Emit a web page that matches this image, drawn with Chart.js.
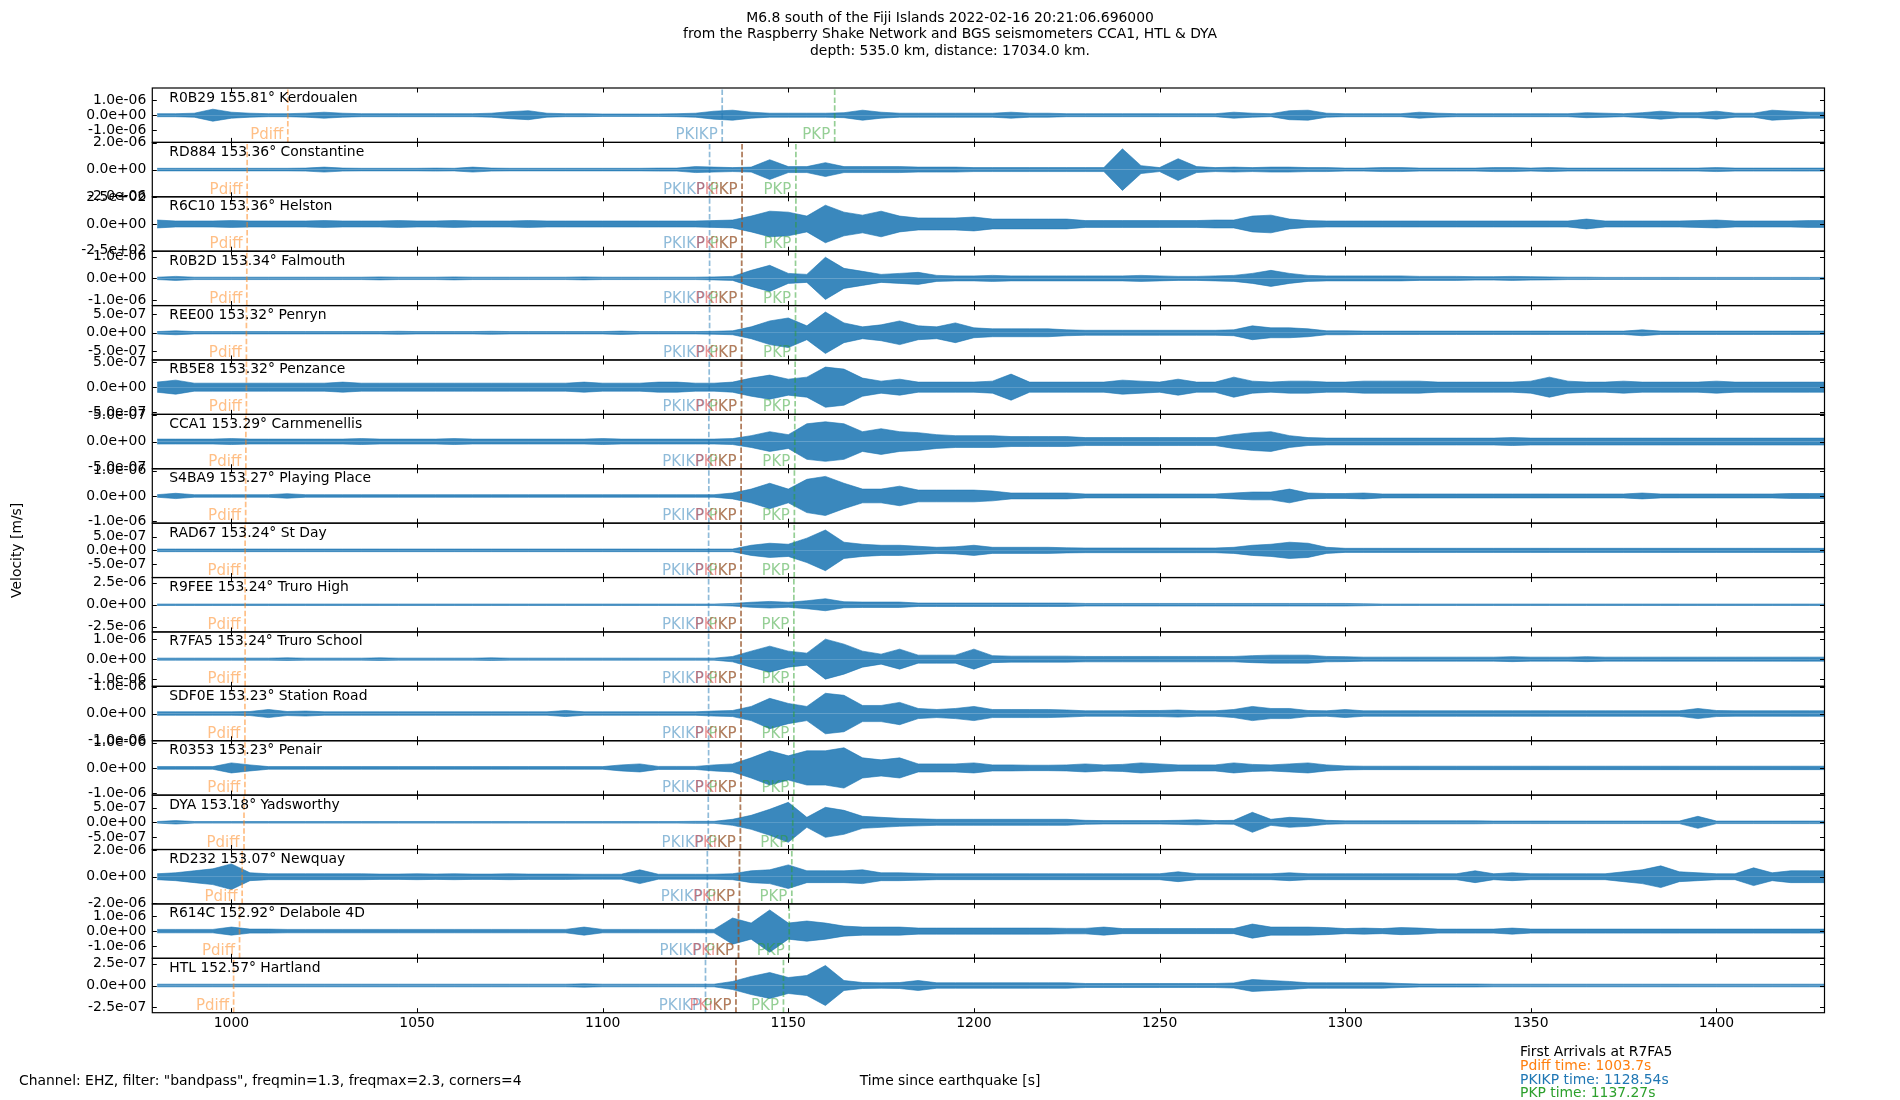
<!DOCTYPE html>
<html>
<head>
<meta charset="utf-8">
<script src="https://cdn.jsdelivr.net/npm/chart.js@4.4.0/dist/chart.umd.min.js"></script>
<style>
  html, body { margin: 0; padding: 0; background: #fff; }
  canvas { display: block; }
</style>
</head>
<body>
<canvas id="seis" width="1900" height="1100"></canvas>
<script>
// station labels, top to bottom
const stations = ['R0B29 155.81° Kerdoualen', 'RD884 153.36° Constantine', 'R6C10 153.36° Helston',
  'R0B2D 153.34° Falmouth', 'REE00 153.32° Penryn', 'RB5E8 153.32° Penzance', 'CCA1 153.29° Carnmenellis',
  'S4BA9 153.27° Playing Place', 'RAD67 153.24° St Day', 'R9FEE 153.24° Truro High', 'R7FA5 153.24° Truro School',
  'SDF0E 153.23° Station Road', 'R0353 153.23° Penair', 'DYA 153.18° Yadsworthy', 'RD232 153.07° Newquay',
  'R614C 152.92° Delabole 4D', 'HTL 152.57° Hartland'];

// time since earthquake [s] of each envelope sample
const times = [980,985,990,995,1000,1005,1010,1015,1020,1025,
  1030,1035,1040,1045,1050,1055,1060,1065,1070,1075,
  1080,1085,1090,1095,1100,1105,1110,1115,1120,1125,
  1130,1135,1140,1145,1150,1155,1160,1165,1170,1175,
  1180,1185,1190,1195,1200,1205,1210,1215,1220,1225,
  1230,1235,1240,1245,1250,1255,1260,1265,1270,1275,
  1280,1285,1290,1295,1300,1305,1310,1315,1320,1325,
  1330,1335,1340,1345,1350,1355,1360,1365,1370,1375,
  1380,1385,1390,1395,1400,1405,1410,1415,1420,1425,
  1430];

// peak amplitude per 5 s window, nm/s (R6C10 in counts)
const ampR0B29 = [102,102,136,408,204,136,102,102,136,204, 136,102,102,102,102,102,102,102,136,238,
  306,136,102,102,82,82,82,82,102,136, 272,340,204,136,136,136,136,170,340,204,
  136,136,136,136,136,136,204,136,136,102, 102,102,102,102,102,102,102,102,204,136,
  102,306,340,136,102,102,102,102,204,136, 102,102,102,102,102,102,102,170,136,102,
  170,272,170,170,272,136,136,340,272,204, 204];
const ampRD884 = [96,96,96,96,96,96,96,96,111,185, 111,96,96,96,96,111,96,185,111,96,
  96,96,96,96,96,96,96,111,111,222, 185,148,185,740,222,222,518,222,222,222,
  222,185,185,185,148,148,148,148,148,148, 148,148,1554,296,148,814,222,148,185,148,
  185,185,148,148,111,111,148,148,111,111, 111,111,148,148,111,148,111,111,111,111,
  111,111,111,111,148,111,111,111,111,111, 111];
const ampR6C10 = [37,28,28,28,32,28,28,28,28,32, 28,28,28,32,28,28,32,28,28,28,
  32,28,28,28,28,28,28,28,28,28, 32,37,74,120,111,74,176,111,83,120,
  74,56,56,56,65,46,46,46,46,46, 32,32,32,32,32,32,32,37,37,74,
  83,46,32,28,28,28,28,28,28,28, 28,28,28,28,28,28,28,46,28,28,
  28,28,28,32,37,28,28,28,28,32, 32];
const ampR0B2D = [55,92,55,55,55,55,55,55,55,55, 55,55,69,55,55,55,69,55,55,55,
  55,55,55,69,55,55,55,55,55,55, 69,92,368,600,230,184,970,460,322,184,
  230,276,138,115,115,138,115,115,115,115, 115,115,115,138,115,92,92,115,138,230,
  368,230,138,115,115,115,115,115,92,92, 92,78,78,92,78,69,55,55,46,46,
  46,46,46,46,46,46,46,46,46,46, 46];
const ampREE00 = [32,53,32,32,32,32,32,32,32,32, 32,32,32,40,32,32,32,32,40,32,
  32,32,32,32,32,45,32,32,32,32, 40,53,160,320,400,187,560,267,160,214,
  320,187,160,267,134,107,107,107,107,80, 67,67,67,67,67,67,67,67,80,187,
  134,134,107,53,53,45,45,45,45,45, 45,45,45,45,45,45,45,45,45,45,
  80,45,45,45,45,45,45,45,45,45, 45];
const ampRB5E8 = [102,142,81,81,81,81,81,81,81,81, 102,81,81,81,81,81,81,81,81,81,
  81,81,81,102,81,81,81,102,102,81, 81,102,183,244,162,203,406,365,183,122,
  162,102,102,102,102,122,264,102,102,102, 102,102,142,122,102,162,102,102,203,122,
  102,122,122,102,102,122,122,122,122,102, 102,102,102,102,122,203,122,102,102,122,
  102,102,102,102,122,102,102,102,102,102, 102];
const ampCCA1 = [47,47,47,47,57,47,47,47,47,47, 47,57,47,47,47,47,57,47,47,47,
  47,47,47,47,57,47,47,47,47,47, 47,57,113,189,132,340,378,340,189,246,
  189,170,132,113,113,113,95,95,95,95, 76,76,76,76,76,76,76,76,132,170,
  189,113,76,66,66,66,66,66,66,66, 66,66,66,76,66,66,66,66,66,66,
  66,66,66,66,66,66,66,66,66,66, 66];
const ampS4BA9 = [50,104,50,50,50,50,50,89,50,50, 50,50,50,50,50,50,50,50,50,50,
  50,50,50,50,50,50,50,50,50,50, 50,116,270,500,270,655,770,500,270,270,
  385,231,231,231,231,193,116,116,116,116, 77,77,77,77,77,77,77,77,116,154,
  154,270,116,96,96,116,77,77,77,77, 77,77,77,77,77,77,77,77,77,77,
  116,77,77,77,77,77,77,77,96,96, 96];
const ampRAD67 = [48,48,48,48,48,48,48,48,48,48, 48,48,48,48,48,48,48,48,48,48,
  48,48,48,48,48,48,48,48,48,48, 48,48,185,259,222,444,740,296,222,185,
  185,148,111,130,185,111,111,111,111,93, 85,85,85,85,85,85,85,85,111,185,
  222,296,259,111,74,74,74,74,74,74, 74,74,74,74,74,74,74,74,74,74,
  74,74,74,74,74,74,74,74,74,74, 74];
const ampR9FEE = [80,80,80,80,80,80,80,80,80,80, 80,80,80,80,80,80,80,80,80,80,
  80,80,80,80,80,80,80,80,80,80, 80,148,285,376,285,456,684,342,308,308,
  308,194,194,194,194,194,194,194,194,194, 148,148,148,148,148,148,148,148,148,148,
  148,148,148,148,148,114,80,80,80,80, 80,80,80,80,80,80,80,80,80,80,
  80,80,80,80,80,80,80,80,80,80, 80];
const ampR7FA5 = [50,50,50,50,50,50,50,65,50,50, 50,50,65,50,50,50,50,50,65,50,
  50,50,50,50,50,50,50,50,50,50, 50,135,400,650,400,300,1000,750,400,250,
  500,200,200,200,500,175,150,150,150,150, 135,135,135,135,135,135,135,135,135,175,
  200,200,200,135,125,100,100,100,100,100, 100,100,100,125,100,100,100,125,100,100,
  100,100,100,100,100,100,100,100,100,100, 100];
const ampSDF0E = [64,64,64,64,64,75,150,75,94,64, 64,64,64,64,64,64,64,64,64,64,
  64,64,113,64,64,64,64,64,64,64, 94,113,263,564,376,263,752,677,300,300,
  414,188,150,188,263,150,150,150,150,132, 102,102,102,113,113,132,102,102,150,263,
  188,188,113,102,150,102,102,102,102,102, 102,102,102,102,102,102,102,102,102,102,
  102,102,102,188,113,102,102,102,102,102, 102];
const ampR0353 = [52,52,52,52,200,120,52,52,52,52, 52,52,52,52,52,52,52,52,52,52,
  52,52,52,52,52,120,160,60,60,60, 120,160,400,680,480,680,680,800,400,320,
  400,160,160,160,200,120,120,108,108,120, 160,120,140,200,160,120,120,120,200,140,
  120,160,200,120,80,68,68,68,68,68, 68,68,68,68,68,68,68,68,68,68,
  68,68,68,68,68,68,68,68,68,68, 68];
const ampDYA = [27,58,27,27,27,27,27,27,27,27, 27,27,27,27,27,27,27,27,27,27,
  27,27,27,27,27,27,27,27,27,34, 34,103,239,445,684,171,513,410,205,171,
  137,120,103,103,103,103,103,103,103,103, 68,58,58,58,58,68,86,58,68,342,
  103,171,137,68,51,51,51,51,51,51, 51,51,44,44,44,44,44,44,44,44,
  44,44,44,205,44,44,44,44,44,44, 44];
const ampRD232 = [222,296,444,592,962,296,222,222,222,222, 222,222,200,200,222,200,222,200,200,222,
  200,200,200,185,185,185,518,185,185,185, 185,222,444,518,888,444,444,444,518,296,
  296,259,222,222,222,222,222,222,222,222, 222,222,222,222,222,370,222,222,222,222,
  222,296,222,222,222,222,222,222,222,222, 222,444,222,296,222,222,222,222,222,370,
  518,814,370,296,222,222,666,296,444,444, 444];
const ampR614C = [113,113,113,113,267,133,133,113,113,113, 113,113,113,113,113,113,113,113,113,113,
  113,113,113,267,113,113,113,113,113,113, 113,867,533,1400,533,667,533,333,267,267,
  267,200,200,200,200,200,200,200,200,180, 180,267,167,167,167,167,167,167,167,467,
  267,267,267,233,167,200,167,233,200,133, 133,133,133,200,133,133,133,133,133,133,
  133,133,133,133,133,133,133,133,133,133, 133];
const ampHTL = [15,15,15,15,15,15,15,15,15,15, 15,15,15,15,15,15,15,15,15,15,
  15,15,15,19,15,15,15,15,15,15, 15,46,103,148,91,114,228,57,34,31,
  34,57,31,31,31,31,31,31,31,31, 23,23,23,23,23,23,23,23,29,68,
  57,46,31,31,31,31,31,23,17,17, 17,17,15,15,15,15,15,15,15,15,
  15,15,15,15,15,15,15,15,15,15, 15];

const traces = [ampR0B29, ampRD884, ampR6C10, ampR0B2D, ampREE00, ampRB5E8, ampCCA1, ampS4BA9,
  ampRAD67, ampR9FEE, ampR7FA5, ampSDF0E, ampR0353, ampDYA, ampRD232, ampR614C, ampHTL];
const ampUnit = [1e-9, 1e-9, 1, 1e-9, 1e-9, 1e-9, 1e-9, 1e-9, 1e-9, 1e-9, 1e-9, 1e-9, 1e-9, 1e-9, 1e-9, 1e-9, 1e-9];

// axis limits and tick labels
const yLimit = [1.85e-6, 2.03e-6, 255, 1.25e-6, 7.35e-7, 5.5e-7, 5.2e-7, 1.07e-6, 9.9e-7,
  3.1e-6, 1.36e-6, 1.01e-6, 1.08e-6, 9.3e-7, 2.04e-6, 1.8e-6, 3.1e-7];
const yTickStep = [1e-6, 2e-6, 250, 1e-6, 5e-7, 5e-7, 5e-7, 1e-6, 5e-7,
  2.5e-6, 1e-6, 1e-6, 1e-6, 5e-7, 2e-6, 1e-6, 2.5e-7];
const xTicks = [1000, 1050, 1100, 1150, 1200, 1250, 1300, 1350, 1400];
const xMin = 978.7, xMax = 1429.1;

// predicted arrival times [s]
const pdiffTime = [1015.2, 1004.25, 1004.25, 1004.15, 1004.05, 1004.05, 1003.9, 1003.85, 1003.7,
  1003.7, 1003.7, 1003.65, 1003.65, 1003.4, 1002.9, 1002.2, 1000.6];
const pkikpTime = [1132.2, 1128.8, 1128.8, 1128.8, 1128.8, 1128.7, 1128.6, 1128.6, 1128.54,
  1128.54, 1128.54, 1128.54, 1128.54, 1128.45, 1128.2, 1127.9, 1127.7];
const pkpTime1 = [null, 1137.55, 1137.55, 1137.45, 1137.45, 1137.4, 1137.3, 1137.3, 1137.27,
  1137.27, 1137.27, 1137.27, 1137.27, 1137.1, 1136.85, 1136.6, 1135.9];
const pkiKPTime = [null, 1137.55, 1137.55, 1137.45, 1137.45, 1137.4, 1137.3, 1137.3, 1137.27,
  1137.27, 1137.27, 1137.27, 1137.27, 1137.1, 1136.85, 1136.6, 1135.9];
const pkpTime2 = [1162.5, 1152.05, 1152.05, 1151.95, 1151.95, 1151.85, 1151.75, 1151.65, 1151.6,
  1151.5, 1151.5, 1151.5, 1151.5, 1151.2, 1150.95, 1150.25, 1148.7];

const titleLines = ['M6.8 south of the Fiji Islands 2022-02-16 20:21:06.696000',
  'from the Raspberry Shake Network and BGS seismometers CCA1, HTL & DYA',
  'depth: 535.0 km, distance: 17034.0 km.'];
const firstArrivals = [['First Arrivals at R7FA5', '#000000'], ['Pdiff time: 1003.7s', '#ff7f0e'],
  ['PKIKP time: 1128.54s', '#1f77b4'], ['PKP time: 1137.27s', '#2ca02c']];

const FONT = 'DejaVu Sans';
const FS = 13.9;
Chart.defaults.font.family = FONT;
Chart.defaults.font.size = FS;
Chart.defaults.color = '#000';

function sci(v) {
  if (v === 0) return '0.0e+00';
  const parts = v.toExponential(1).split('e');
  const n = parseInt(parts[1], 10);
  return parts[0] + 'e' + (n < 0 ? '-' : '+') + String(Math.abs(n)).padStart(2, '0');
}

const scales = {
  x: {
    type: 'linear', min: xMin, max: xMax,
    afterBuildTicks: s => { s.ticks = xTicks.map(v => ({ value: v })); },
    afterFit: s => { s.height = 30; },
    grid: { display: false, drawTicks: false },
    border: { display: false },
    ticks: { autoSkip: false, maxRotation: 0, padding: 2, callback: v => String(v) }
  }
};
stations.forEach((s, i) => {
  scales['y' + i] = {
    type: 'linear', position: 'left', stack: 'traces', stackWeight: 1, weight: stations.length - i,
    min: -yLimit[i], max: yLimit[i],
    afterBuildTicks: sc => { sc.ticks = [-yTickStep[i], 0, yTickStep[i]].map(v => ({ value: v })); },
    afterFit: sc => { sc.width = 100; },
    grid: { display: false, drawTicks: false },
    border: { display: false },
    ticks: { autoSkip: false, padding: 6, callback: v => sci(v) }
  };
});

const datasets = [];
traces.forEach((amp, i) => {
  [1, -1].forEach(sign => {
    datasets.push({
      data: times.map((t, k) => ({ x: t, y: sign * amp[k] * ampUnit[i] })),
      xAxisID: 'x', yAxisID: 'y' + i,
      borderColor: '#1f77b4', backgroundColor: 'rgba(31,119,180,0.88)',
      borderWidth: 0.6, pointRadius: 0, tension: 0, fill: 'origin'
    });
  });
});

const decor = {
  id: 'decor',
  afterDatasetsDraw(chart) {
    const ctx = chart.ctx, xs = chart.scales.x;
    ctx.save();
    stations.forEach((name, i) => {
      const ys = chart.scales['y' + i];
      const phases = [['Pdiff', pdiffTime[i], '#ff7f0e'], ['PKIKP', pkikpTime[i], '#1f77b4'],
        ['PKP', pkpTime1[i], '#2ca02c'], ['PKiKP', pkiKPTime[i], '#d62728'], ['PKP', pkpTime2[i], '#2ca02c']];
      phases.forEach(([label, t, col]) => {
        if (t == null) return;
        const px = xs.getPixelForValue(t);
        ctx.globalAlpha = 0.5;
        ctx.strokeStyle = col;
        ctx.lineWidth = 1.7;
        ctx.setLineDash([5.5, 2.4]);
        ctx.beginPath();
        ctx.moveTo(px, ys.bottom);
        ctx.lineTo(px, ys.top);
        ctx.stroke();
        ctx.setLineDash([]);
        ctx.fillStyle = col;
        ctx.font = '15px "' + FONT + '"';
        ctx.textAlign = 'right';
        ctx.textBaseline = 'alphabetic';
        ctx.fillText(label, px - 4.5, ys.bottom - 3);
      });
    });
    ctx.restore();
  },
  afterDraw(chart) {
    const ctx = chart.ctx, xs = chart.scales.x, area = chart.chartArea;
    ctx.save();
    ctx.font = FS + 'px "' + FONT + '"';
    stations.forEach((name, i) => {
      const ys = chart.scales['y' + i];
      ctx.strokeStyle = '#000';
      ctx.lineWidth = 1.2;
      ctx.strokeRect(area.left, ys.top, area.right - area.left, ys.bottom - ys.top);
      ctx.lineWidth = 1;
      ctx.beginPath();
      xTicks.forEach(v => {
        const px = Math.round(xs.getPixelForValue(v)) + 0.5;
        ctx.moveTo(px, ys.top); ctx.lineTo(px, ys.top + 4.5);
        ctx.moveTo(px, ys.bottom); ctx.lineTo(px, ys.bottom - 4.5);
      });
      [-yTickStep[i], 0, yTickStep[i]].forEach(v => {
        const py = Math.round(ys.getPixelForValue(v)) + 0.5;
        ctx.moveTo(area.left, py); ctx.lineTo(area.left + 4.5, py);
        ctx.moveTo(area.right, py); ctx.lineTo(area.right - 4.5, py);
      });
      ctx.stroke();
      ctx.fillStyle = '#000';
      ctx.textAlign = 'left';
      ctx.textBaseline = 'alphabetic';
      ctx.fillText(name, area.left + 17, ys.top + 13.5);
    });

    // title
    ctx.textAlign = 'center';
    titleLines.forEach((line, k) => ctx.fillText(line, 950, 22 + k * 16.4));

    // axis labels and footer
    ctx.fillText('Time since earthquake [s]', 950, 1085);
    ctx.textAlign = 'left';
    ctx.fillText('Channel: EHZ, filter: "bandpass", freqmin=1.3, freqmax=2.3, corners=4', 19, 1085);
    firstArrivals.forEach(([txt, col], k) => {
      ctx.fillStyle = col;
      ctx.fillText(txt, 1520, 1056 + k * 13.8);
    });
    ctx.fillStyle = '#000';
    ctx.translate(17, (area.top + area.bottom) / 2);
    ctx.rotate(-Math.PI / 2);
    ctx.textAlign = 'center';
    ctx.textBaseline = 'middle';
    ctx.fillText('Velocity [m/s]', 0, 0);
    ctx.restore();
  }
};

new Chart(document.getElementById('seis').getContext('2d'), {
  type: 'line',
  data: { datasets },
  options: {
    responsive: false,
    animation: false,
    devicePixelRatio: 1,
    layout: { padding: { left: 52.3, right: 75.5, top: 88, bottom: 57.3 } },
    scales,
    plugins: { legend: { display: false }, tooltip: { enabled: false }, title: { display: false } }
  },
  plugins: [decor]
});
</script>
</body>
</html>
